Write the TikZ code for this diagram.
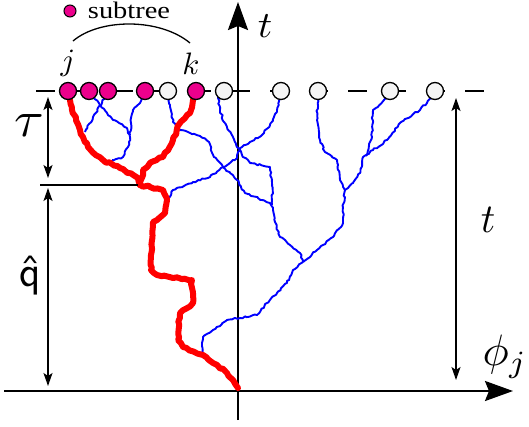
\documentclass[tikz,border=0pt]{standalone}
\usepackage{fontspec}
\newfontfamily\legfont{Liberation Serif}
\usetikzlibrary{arrows.meta,decorations.pathmorphing}
\begin{document}
\begin{tikzpicture}[x=1pt,y=-1pt,
  bluepath/.style={draw=blue, line width=1.9pt, line join=round, decorate,
    decoration={random steps, segment length=2.5pt, amplitude=0.9pt}},
  redpath/.style={draw=red, line width=6pt, line join=round, line cap=round, decorate,
    decoration={random steps, segment length=4pt, amplitude=1.1pt}},
  leaf/.style={circle, draw=black, line width=1.3pt, minimum size=17pt, inner sep=0pt},
  magleaf/.style={leaf, fill=magenta},
  whleaf/.style={leaf, fill=black!4},
  axisline/.style={line width=2.2pt, -{Stealth[length=28pt,width=20pt,inset=4pt]}},
  dimarrow/.style={line width=1.5pt, {Stealth[length=13pt,width=9pt,inset=3pt]}-{Stealth[length=13pt,width=9pt,inset=3pt]}},
  lab/.style={inner sep=0pt}]
\useasboundingbox (0,0) rectangle (529,426);
\pgfmathsetseed{7}
% leaf positions
\coordinate (p1) at (68,91);
\coordinate (p2) at (89,91);
\coordinate (p3) at (108,91);
\coordinate (p4) at (145,91);
\coordinate (p5) at (168,91);
\coordinate (p6) at (196,91);
\coordinate (p7) at (224,91);
\coordinate (p8) at (281,91);
\coordinate (p9) at (318,91);
\coordinate (p10) at (390,91);
\coordinate (p11) at (435,91);
% axes
\coordinate (ob) at (238,420);
\coordinate (ot) at (238,2);
\coordinate (ol) at (4,391);
\coordinate (or) at (513,391);
\draw[axisline] (ob) -- (ot);
\draw[axisline] (ol) -- (or);
% dashed time line
\coordinate (dl) at (36,91);
\coordinate (dr) at (486,91);
\draw[line width=1.4pt, dash pattern=on 19pt off 20pt] (dl) -- (dr);
% blue branches
\draw[bluepath] (p2) -- (93,97) -- (100,105) -- (113,120) -- (127,128) -- (130,137) -- (128,147) -- (123,157) -- (112,160);
\draw[bluepath] (p3) -- (102,103) -- (93,117) -- (85,132);
\draw[bluepath] (p4) -- (140,103) -- (133,110) -- (131,123) -- (130,135);
\draw[bluepath] (p5) -- (170,105) -- (173,122) -- (180,130) -- (200,136) -- (209,142) -- (214,157) -- (223,167) -- (237,180) -- (245,193) -- (258,198) -- (270,203) -- (273,210) -- (275,222) -- (280,237) -- (290,245) -- (300,253) -- (303,262);
\draw[bluepath] (p7) -- (218,98) -- (220,110) -- (224,122) -- (233,137) -- (238,148) -- (242,155) -- (250,163) -- (270,167) -- (272,183) -- (272,205);
\draw[bluepath] (p8) -- (277,110) -- (270,125) -- (262,135) -- (250,142) -- (240,148) -- (237,158) -- (223,167) -- (210,177) -- (193,182) -- (173,190) -- (167,203);
\draw[bluepath] (p9) -- (317,120) -- (320,140) -- (325,152) -- (337,160) -- (340,180) -- (345,190) -- (343,207) -- (343,223) -- (333,237) -- (317,250) -- (303,262);
\draw[bluepath] (p10) -- (387,98) -- (373,110) -- (372,137) -- (366,156);
\draw[bluepath] (p11) -- (432,97) -- (420,110) -- (400,123) -- (387,140) -- (373,150) -- (363,157) -- (360,173) -- (353,183) -- (345,190);
\draw[bluepath] (303,262) -- (293,270) -- (287,283) -- (277,293) -- (267,303) -- (257,315) -- (240,318) -- (227,320) -- (213,330) -- (203,337) -- (202,343) -- (202,353);
% red lineage
\draw[redpath] (p1) -- (70,100) -- (72,110) -- (80,130) -- (88,147) -- (103,160) -- (120,168) -- (138,178) -- (140,185);
\draw[redpath] (p6) -- (193,100) -- (190,113) -- (180,123) -- (173,140) -- (163,157) -- (150,163) -- (143,170) -- (140,185);
\draw[redpath] (140,185) -- (150,187) -- (163,190) -- (167,200) -- (165,213) -- (153,222) -- (152,240) -- (151,270) -- (157,275) -- (173,278) -- (192,280) -- (193,303) -- (180,313) -- (178,340) -- (183,347) -- (203,355) -- (213,363) -- (227,373) -- (233,380) -- (238,388);
% leaves
\node[magleaf] (c1) at (p1) {};
\node[magleaf] (c2) at (p2) {};
\node[magleaf] (c3) at (p3) {};
\node[magleaf] (c4) at (p4) {};
\node[whleaf] (c5) at (p5) {};
\node[magleaf] (c6) at (p6) {};
\node[whleaf] (c7) at (p7) {};
\node[whleaf] (c8) at (p8) {};
\node[whleaf] (c9) at (p9) {};
\node[whleaf] (c10) at (p10) {};
\node[whleaf] (c11) at (p11) {};
% legend
\node[magleaf, minimum size=12pt, line width=1pt] (lg) at (70,11) {};
\node[lab] (lgt) at (129,10.5) {\resizebox{82pt}{16.5pt}{\legfont subtree}};
\coordinate (aj) at (73,41);
\coordinate (ak) at (190,43);
\draw[line width=1.3pt] (aj) .. controls (100,18) and (160,18) .. (ak);
\node[lab] (lj) at (68,63) {\scalebox{3.1}{$j$}};
\node[lab] (lk) at (191,64) {\scalebox{3.1}{$k$}};
% labels
\node[lab] (tt) at (265,26) {\scalebox{4}[3.7]{$t$}};
\node[lab] (tr) at (488,220) {\scalebox{4}[4.1]{$t$}};
\node[lab] (phi) at (505,357) {\scalebox{4.4}{$\phi_j$}};
\node[lab] (tau) at (29,126) {\scalebox{5.4}[5.1]{$\tau$}};
\node[lab, font=\fontsize{44}{44}\selectfont\sffamily] (qh) at (30,276) {\^q};
% dimensions
\coordinate (ts) at (40,185);
\coordinate (te) at (138,185);
\draw[line width=2pt] (ts) -- (te);
\coordinate (a1) at (48,97);
\coordinate (a2) at (48,178);
\draw[dimarrow] (a1) -- (a2);
\coordinate (b1) at (48,188);
\coordinate (b2) at (48,386);
\draw[dimarrow] (b1) -- (b2);
\coordinate (r1) at (456,98);
\coordinate (r2) at (456,380);
\draw[dimarrow] (r1) -- (r2);
\end{tikzpicture}
\end{document}
